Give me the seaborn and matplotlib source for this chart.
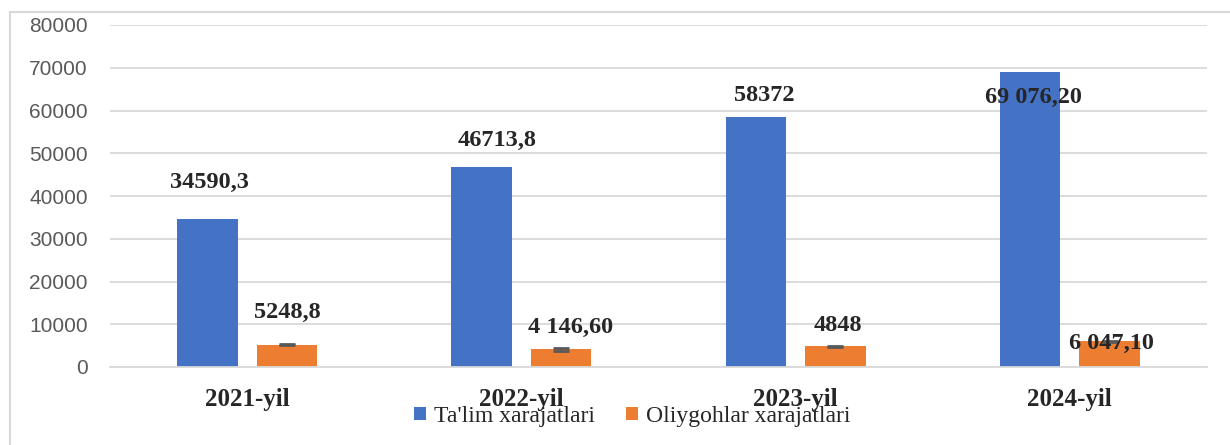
import pandas as pd
import seaborn as sns
import matplotlib.pyplot as plt
from matplotlib.patches import Rectangle

# data
years = ["2021-yil", "2022-yil", "2023-yil", "2024-yil"]
talim = [34590.3, 46713.8, 58372, 69076.2]
oliygoh = [5248.8, 4146.6, 4848, 6047.1]
oliygoh_err = [120, 300, 120, 120]
talim_labels = ["34590,3", "46713,8", "58372", "69 076,20"]
oliygoh_labels = ["5248,8", "4 146,60", "4848", "6 047,10"]
series_names = ["Ta'lim xarajatlari", "Oliygohlar xarajatlari"]

df = pd.DataFrame({
    "yil": years * 2,
    "qiymat": talim + oliygoh,
    "turi": [series_names[0]] * 4 + [series_names[1]] * 4,
})

sns.set_style("white")
plt.rcParams["font.family"] = ["Liberation Serif", "DejaVu Serif"]

fig = plt.figure(figsize=(12.3, 4.45), dpi=100)
ax = fig.add_axes([110 / 1230, 1 - 367 / 445, (1207 - 110) / 1230, (367 - 25) / 445])

sns.barplot(data=df, x="yil", y="qiymat", hue="turi", hue_order=series_names,
            palette=["#4472C4", "#ED7D31"], width=0.58, gap=0.24,
            errorbar=None, saturation=1, linewidth=0, ax=ax)

ax.set_ylim(0, 80000)
ax.set_yticks(range(0, 80001, 10000))
ax.set_xlim(-0.5, 3.5)
ax.yaxis.grid(True, color="#D9D9D9", lw=1.3)
ax.set_axisbelow(True)
for s in ["top", "right", "left"]:
    ax.spines[s].set_visible(False)
ax.spines["bottom"].set_color("#D9D9D9")
ax.spines["bottom"].set_linewidth(1.3)
ax.tick_params(axis="both", length=0)
ax.tick_params(axis="y", pad=16)
ax.tick_params(axis="x", pad=15)
for t in ax.get_yticklabels():
    t.set_fontfamily("Liberation Sans")
    t.set_fontsize(15)
    t.set_color("#595959")
for t in ax.get_xticklabels():
    t.set_fontsize(18)
    t.set_fontweight("bold")
ax.set_xlabel("")
ax.set_ylabel("")

# error bars on the orange bars
obars = ax.containers[1]
xs = [p.get_x() + p.get_width() / 2 for p in obars]
ax.errorbar(xs, oliygoh, yerr=oliygoh_err, fmt="none", ecolor="#595959",
            elinewidth=1.5, capsize=6, capthick=2, zorder=3)

# data labels (manual offsets like the original)
talim_off = [(2, 37), (15, 27), (8, 22), (3, -26)]
oliy_off = [(0, 32), (9, 22), (2, 21), (2, -2)]
for bars, labels, offs in [(ax.containers[0], talim_labels, talim_off),
                           (ax.containers[1], oliygoh_labels, oliy_off)]:
    for p, lab, (dx, dy) in zip(bars, labels, offs):
        ax.annotate(lab, (p.get_x() + p.get_width() / 2, p.get_height()),
                    xytext=(dx, dy), textcoords="offset pixels",
                    ha="center", va="center", fontsize=17.5, fontweight="bold",
                    zorder=5)

handles, labels = ax.get_legend_handles_labels()
ax.legend_.remove()
fig.legend(handles, labels, loc="center", bbox_to_anchor=(0.514, 0.064),
           ncol=2, frameon=False, fontsize=17, handlelength=0.5,
           handleheight=0.5, handletextpad=0.35, columnspacing=1.3)

fig.patches.append(Rectangle((10 / 1230, -0.05), 1.2, 1 - 12 / 445 + 0.05,
                             transform=fig.transFigure, fill=False,
                             ec="#D9D9D9", lw=1.5))

fig.savefig("out.png", dpi=100)
